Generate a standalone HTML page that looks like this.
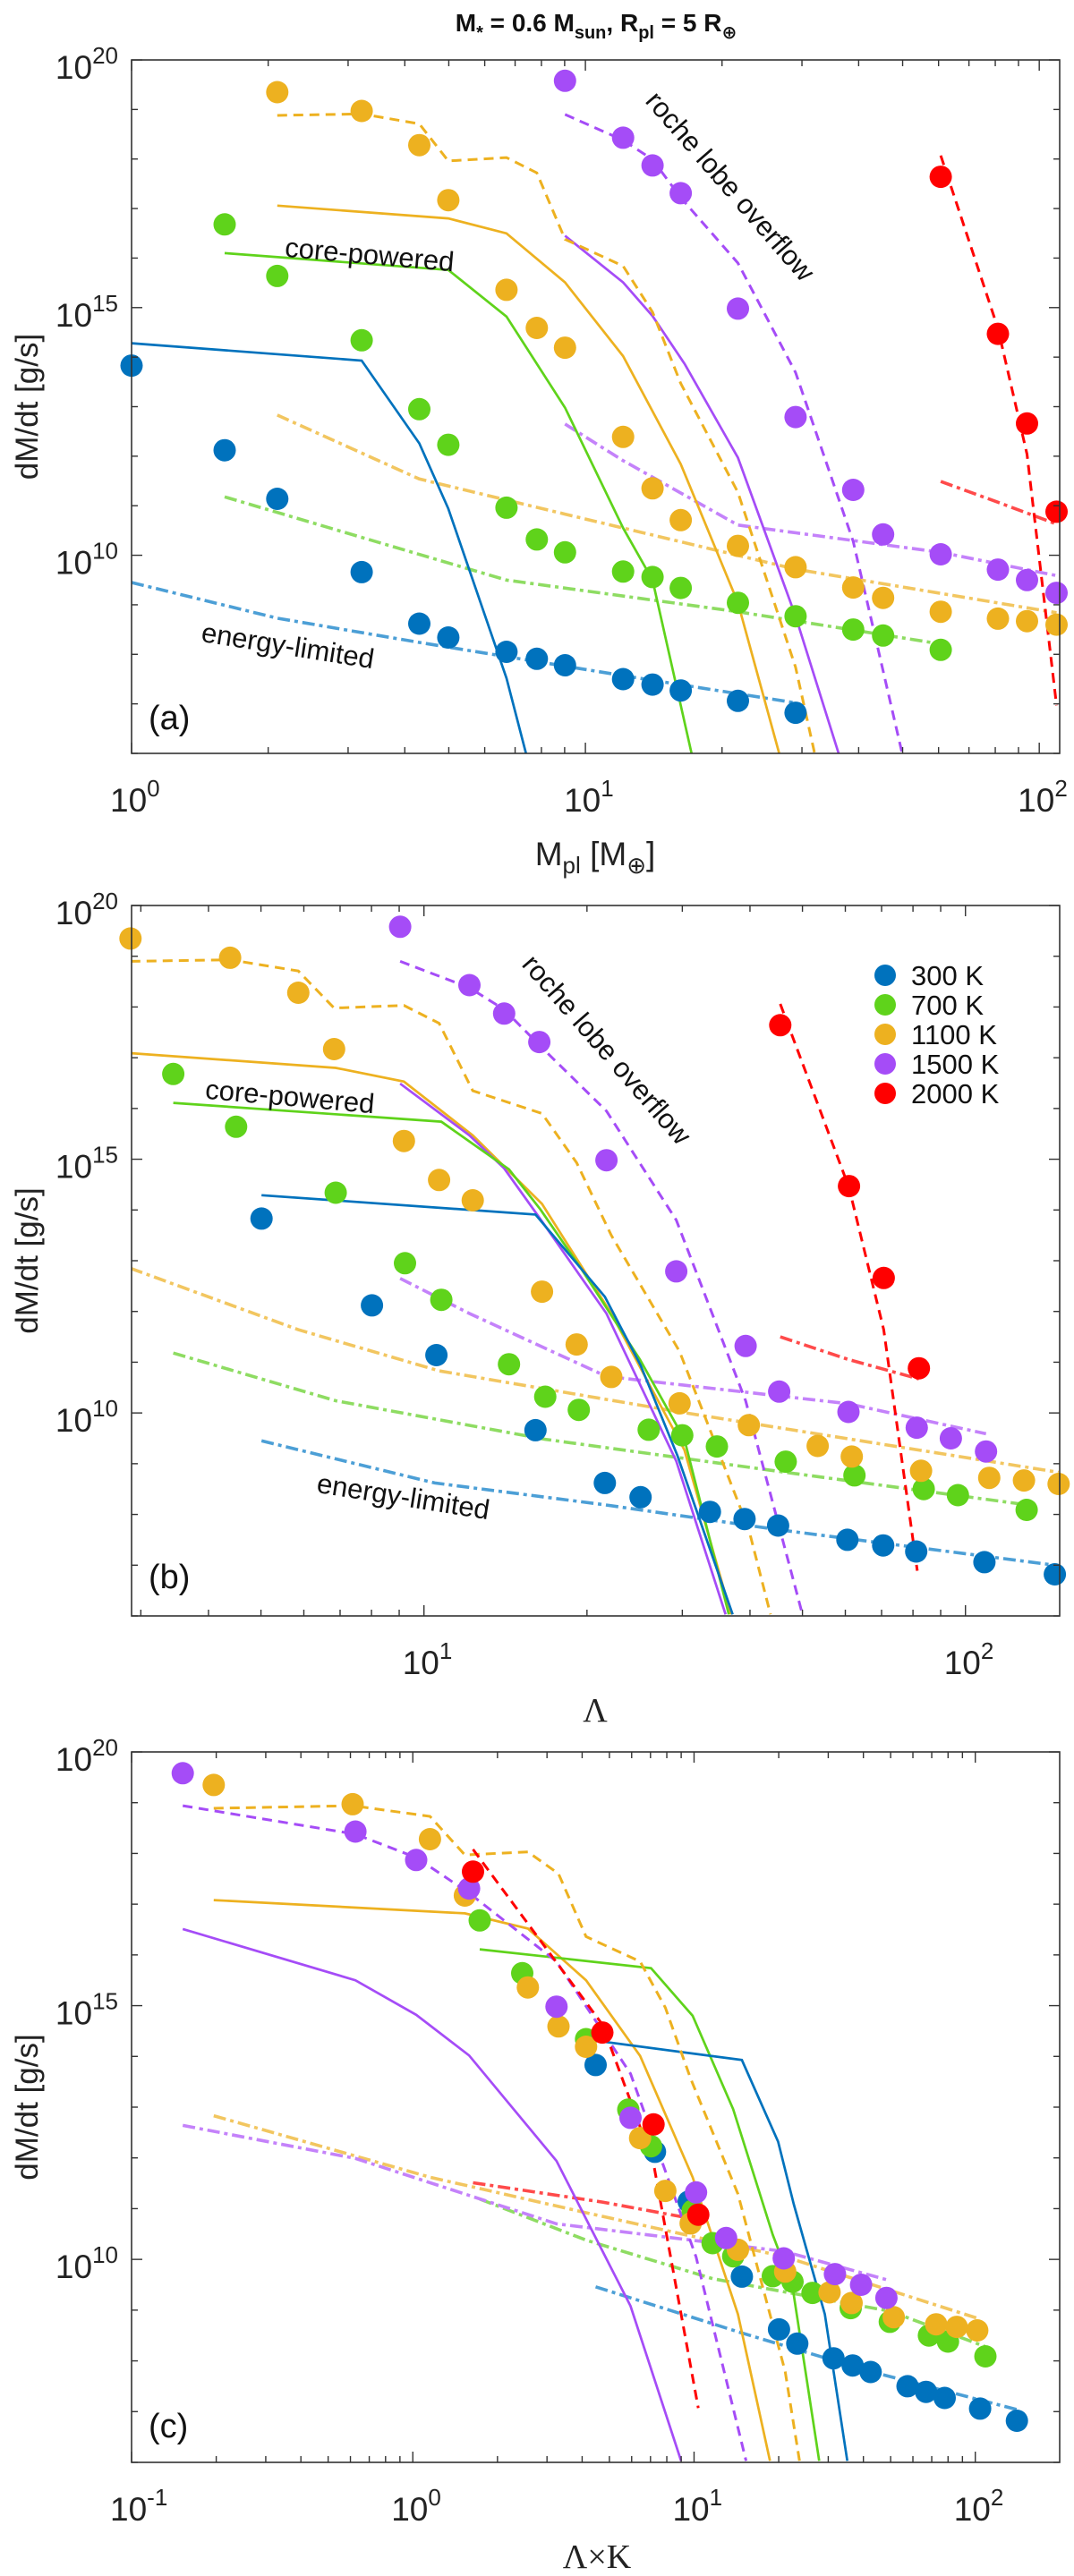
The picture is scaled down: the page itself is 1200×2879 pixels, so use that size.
<!DOCTYPE html>
<html><head><meta charset="utf-8"><style>
html,body{margin:0;padding:0;background:#fff;}
svg{display:block;font-family:"Liberation Sans","DejaVu Sans",sans-serif;}
</style></head><body>
<svg id="fig" width="1200" height="2879" viewBox="0 0 1200 2879" xmlns="http://www.w3.org/2000/svg">
<text x="666" y="35" text-anchor="middle" font-size="28" font-weight="bold" fill="#111">M<tspan font-size="20" dy="8">*</tspan><tspan dy="-8"> = 0.6 M</tspan><tspan font-size="20" dy="8">sun</tspan><tspan dy="-8">, R</tspan><tspan font-size="20" dy="8">pl</tspan><tspan dy="-8"> = 5 R</tspan><tspan font-size="20" dy="8">⊕</tspan></text>
</svg>
<script>
// ---- shared marker rates (log10 dM/dt) ----
const rateBlue=[13.83,12.12,11.14,9.66,8.62,8.34,8.05,7.91,7.78,7.50,7.39,7.27,7.06,6.82];
const rateGreen=[16.68,15.64,14.34,12.95,12.23,10.96,10.32,10.06,9.67,9.56,9.34,9.04,8.77,8.50,8.38,8.09];
const rateOrange=[19.35,18.97,18.28,17.17,15.36,14.59,14.19,12.39,11.35,10.71,10.19,9.76,9.35,9.14,8.86,8.72,8.67,8.60];
const ratePurple=[19.58,18.43,17.87,17.31,14.98,12.79,11.32,10.42,10.02,9.71,9.50,9.24];
const rateRed=[17.64,14.47,12.66,10.88];
// ---- panel a x (log10 Mpl) ----
const massBlue=[0,.205,.321,.507,.634,.698,.826,.893,.955,1.083,1.148,1.210,1.336,1.463];
const massGreen=[.205,.321,.507,.634,.698,.826,.893,.955,1.083,1.148,1.210,1.336,1.463,1.590,1.656,1.783];
const massOrange=[.321,.507,.634,.698,.826,.893,.955,1.083,1.148,1.210,1.336,1.463,1.590,1.656,1.783,1.909,1.973,2.038];
const massPurple=[.955,1.083,1.148,1.210,1.336,1.463,1.590,1.656,1.783,1.909,1.973,2.038];
const massRed=[1.783,1.909,1.973,2.038];
// ---- panel b x (log10 Lambda) ----
const lamBlue=[.700,.904,1.023,1.206,1.334,1.400,1.528,1.592,1.654,1.782,1.848,1.909,2.035,2.165];
const lamGreen=[.537,.653,.837,.965,1.032,1.157,1.224,1.286,1.415,1.477,1.541,1.668,1.795,1.923,1.986,2.113];
const lamOrange=[.458,.642,.768,.834,.963,1.028,1.090,1.218,1.282,1.346,1.472,1.600,1.727,1.790,1.918,2.044,2.108,2.172];
const lamPurple=[.956,1.084,1.148,1.213,1.337,1.466,1.594,1.656,1.784,1.910,1.973,2.038];
const lamRed=[1.658,1.785,1.849,1.914];
// ---- panel c x (log10 Lambda*K) ----
const lkBlue=[.650,.861,.981,1.170,1.302,1.367,1.496,1.564,1.628,1.759,1.825,1.891,2.017,2.148];
const lkGreen=[.238,.389,.616,.766,.847,.995,1.066,1.139,1.280,1.350,1.421,1.557,1.696,1.835,1.903,2.036];
const lkOrange=[-.708,-.214,.061,.185,.409,.518,.616,.808,.898,.988,1.156,1.324,1.482,1.560,1.710,1.861,1.934,2.007];
const lkPurple=[-.818,-.204,.012,.200,.511,.774,1.007,1.114,1.319,1.501,1.594,1.684];
const lkRed=[.214,.674,.856,1.015];

// ---- panel a curves ----
const aSolidBlueX=[0,.507,.634,.698,.826,.869], aSolidBlueY=[14.28,13.93,12.26,10.94,7.52,6.0];
const aSolidGreenX=[.205,.698,.826,.955,1.083,1.148,1.234], aSolidGreenY=[16.10,15.76,14.82,12.98,10.55,9.50,6.0];
const aSolidOrangeX=[.321,.698,.826,.955,1.083,1.210,1.336,1.427], aSolidOrangeY=[17.06,16.80,16.50,15.51,14.02,11.84,9.04,6.0];
const aSolidPurpleX=[.955,1.083,1.148,1.219,1.336,1.463,1.558], aSolidPurpleY=[16.45,15.51,14.83,13.86,11.97,8.77,6.0];
const aDashOrangeX=[.321,.507,.634,.698,.826,.893,.955,1.083,1.148,1.210,1.336,1.463,1.505], aDashOrangeY=[18.88,18.91,18.71,17.96,18.03,17.72,16.38,15.84,14.91,13.47,11.27,7.74,6.0];
const aDashPurpleX=[.955,1.083,1.148,1.210,1.336,1.463,1.590,1.698], aDashPurpleY=[18.90,18.38,17.99,17.22,15.90,13.69,10.28,6.0];
const aDashRedX=[1.783,1.909,1.973,2.038], aDashRedY=[18.07,14.58,12.04,6.97];
const aDdBlueX=[0,.321,.634,1.083,1.463], aDdBlueY=[9.45,8.73,8.24,7.57,7.02];
const aDdGreenX=[.205,.507,.826,1.336,1.783], aDdGreenY=[11.18,10.36,9.50,8.86,8.21];
const aDdOrangeX=[.321,.634,.955,1.463,2.038], aDdOrangeY=[12.83,11.54,10.83,9.72,8.84];
const aDdPurpleX=[.955,1.083,1.336,1.783,2.038], aDdPurpleY=[12.65,11.91,10.61,10.06,9.59];
const aDdRedX=[1.783,1.909,2.038], aDdRedY=[11.49,11.07,10.63];
// ---- panel b curves ----
const bSolidBlueX=[.700,1.206,1.334,1.400,1.468,1.570], bSolidBlueY=[14.29,13.91,12.29,10.94,9.16,6.03];
const bSolidGreenX=[.537,1.032,1.157,1.215,1.291,1.399,1.481,1.563], bSolidGreenY=[16.11,15.74,14.80,14.01,12.83,11.05,9.48,6.03];
const bSolidOrangeX=[.458,.837,.963,1.090,1.218,1.346,1.481,1.567], bSolidOrangeY=[17.09,16.80,16.53,15.47,14.12,11.96,9.27,6.03];
const bSolidPurpleX=[.956,1.084,1.148,1.213,1.337,1.466,1.557], bSolidPurpleY=[16.49,15.47,14.82,13.85,11.96,9.05,6.03];
const bDashOrangeX=[.458,.642,.768,.834,.963,1.028,1.090,1.218,1.282,1.346,1.472,1.600,1.640], bDashOrangeY=[18.90,18.93,18.71,17.98,18.03,17.68,16.35,15.90,14.93,13.50,11.21,7.70,6.03];
const bDashPurpleX=[.956,1.084,1.148,1.213,1.337,1.466,1.594,1.699], bDashPurpleY=[18.90,18.38,17.95,17.25,15.95,13.80,10.24,6.03];
const bDashRedX=[1.658,1.785,1.849,1.911], bDashRedY=[18.06,14.44,11.64,6.89];
const bDdBlueX=[.700,1.020,1.334,1.654,2.165], bDdBlueY=[9.45,8.62,8.19,7.70,7.00];
const bDdGreenX=[.537,.837,1.224,1.668,2.113], bDdGreenY=[11.18,10.24,9.48,8.83,8.19];
const bDdOrangeX=[.458,.768,1.028,1.472,2.172], bDdOrangeY=[12.85,11.64,10.83,10.02,8.83];
const bDdPurpleX=[.956,1.084,1.337,1.784,2.038], bDdPurpleY=[12.65,11.96,10.72,10.18,9.59];
const bDdRedX=[1.658,1.785,1.914], bDdRedY=[11.50,11.05,10.67];
// ---- panel c curves ----
const cSolidPurpleX=[-.818,-.204,.012,.200,.511,.774,.954], cSolidPurpleY=[16.51,15.50,14.82,14.02,11.94,9.08,6.03];
const cSolidOrangeX=[-.708,.185,.409,.616,.808,.995,1.156,1.270], cSolidOrangeY=[17.08,16.82,16.52,15.50,14.01,11.62,8.92,6.03];
const cSolidGreenX=[.238,.847,.995,1.139,1.280,1.350,1.445], cSolidGreenY=[16.11,15.74,14.80,12.96,10.48,9.46,6.03];
const cSolidBlueX=[.650,1.170,1.299,1.355,1.465,1.545], cSolidBlueY=[14.31,13.93,12.32,11.08,8.92,6.03];
const cDashOrangeX=[-.708,-.214,.061,.185,.409,.518,.616,.808,.898,.988,1.156,1.324,1.375], cDashOrangeY=[18.89,18.94,18.73,17.97,18.03,17.60,16.36,15.87,14.96,13.56,11.29,7.79,6.03];
const cDashPurpleX=[-.818,-.204,.012,.200,.511,.774,1.007,1.185], cDashPurpleY=[18.94,18.38,17.92,17.22,15.87,13.66,10.05,6.03];
const cDashRedX=[.214,.674,.856,1.015], cDashRedY=[18.08,14.63,11.89,7.07];
const cDdBlueX=[.650,1.170,1.628,2.148], cDdBlueY=[9.46,8.55,7.79,7.04];
const cDdGreenX=[.238,.616,1.066,1.696,2.036], cDdGreenY=[11.19,10.38,9.62,8.98,8.28];
const cDdOrangeX=[-.708,.061,.616,1.324,2.007], cDdOrangeY=[12.83,11.62,10.92,10.05,8.84];
const cDdPurpleX=[-.818,-.204,.511,1.319,1.684], cDdPurpleY=[12.64,11.99,10.70,10.16,9.60];
const cDdRedX=[.214,.674,1.015], cDdRedY=[11.51,11.13,10.78];

const legendLabels=["300 K","700 K","1100 K","1500 K","2000 K"];
const yTickExps=[10,15,20];

const NS="http://www.w3.org/2000/svg";
const svg=document.getElementById('fig');
const COL={blue:"#0072BD",green:"#5FD31B",orange:"#EDB120",purple:"#A54CF7",red:"#FF0000"};
const DD={blue:"#4C9FD6",green:"#8EDC62",orange:"#F2C660",purple:"#C482FA",red:"#FF4A4A"};
function mk(tag,attrs,parent){const e=document.createElementNS(NS,tag);for(const k in attrs)e.setAttribute(k,attrs[k]);(parent||svg).appendChild(e);return e;}

function panel(id,top,bottom,xmin,xmax,xticks,curves,markers,labelTxt,labelY){
  const L=147,R=1184,ymin=6,ymax=20;
  const sx=v=>L+(v-xmin)/(xmax-xmin)*(R-L);
  const sy=v=>bottom-(v-ymin)/(ymax-ymin)*(bottom-top);
  const g=mk('g',{});
  
  
  const cp=mk('clipPath',{id:'clip'+id},g);
  mk('rect',{x:L,y:top,width:R-L,height:bottom-top},cp);
  const plot=mk('g',{'clip-path':'url(#clip'+id+')'},g);
  curves.forEach(c=>{
    const d=c.x.map((v,i)=>(i?'L':'M')+sx(v).toFixed(1)+' '+sy(c.y[i]).toFixed(1)).join(' ');
    const p=mk('path',{d:d,fill:'none',stroke:c.style==='dd'?DD[c.c]:COL[c.c],'stroke-width':c.style==='solid'?2.7:(c.style==='dd'?3.6:3),'stroke-dasharray':c.style==='dash'?'11,7':(c.style==='dd'?'14,5,4,5':'none')},plot);
    
    
  });
  markers.forEach(m=>{
    m.x.forEach((v,i)=>{
      const ci=mk('circle',{cx:sx(v).toFixed(1),cy:sy(m.y[i]).toFixed(1),r:12.5,fill:COL[m.c]},g);
      
      
    });
  });
  const box=mk('rect',{x:L,y:top,width:R-L,height:bottom-top,fill:'none',stroke:'#333','stroke-width':1.6},g);
  
  
  for(let e=ymin;e<=ymax;e++){
    const y=sy(e),len=(e%5===0)?12:7;
    mk('line',{x1:L,x2:L+len,y1:y,y2:y,stroke:'#333','stroke-width':1.4},g);
    mk('line',{x1:R,x2:R-len,y1:y,y2:y,stroke:'#333','stroke-width':1.4},g);
  }
  yTickExps.forEach(e=>{
    const t=mk('text',{x:132,y:sy(e)+21,'text-anchor':'end','font-size':37,fill:'#222'},g);
    
    
    t.textContent='10';
    const s=mk('tspan',{'font-size':26,dy:-17},t);s.textContent=String(e);
  });
  for(let d=Math.floor(xmin);d<=Math.ceil(xmax);d++){
    for(let k=1;k<10;k++){
      const v=d+Math.log10(k);
      if(v<xmin-1e-6||v>xmax+1e-6)continue;
      const x=sx(v),len=k===1?12:7;
      mk('line',{x1:x,x2:x,y1:bottom,y2:bottom-len,stroke:'#333','stroke-width':1.4},g);
      mk('line',{x1:x,x2:x,y1:top,y2:top+len,stroke:'#333','stroke-width':1.4},g);
    }
  }
  xticks.forEach(e=>{
    const t=mk('text',{x:sx(e)-24,y:bottom+65,'font-size':37,fill:'#222'},g);
    
    
    t.textContent='10';
    const s=mk('tspan',{'font-size':26,dy:-17},t);s.textContent=String(e);
  });
  const yt=mk('text',{x:0,y:0,transform:'translate(42,'+((top+bottom)/2)+') rotate(-90)','text-anchor':'middle','font-size':35,fill:'#222'},g);
  
  
  yt.textContent='dM/dt [g/s]';
  const pl=mk('text',{x:166,y:labelY,'font-size':38,fill:'#111'},g);
  
  
  pl.textContent=labelTxt;
  return {g,sx,sy};
}

function C(c,style,x,y){return {c,style,x,y};}

const pa=panel('a',67,842,0,2.045,[0,1,2],[
  C('blue','dd',aDdBlueX,aDdBlueY),C('green','dd',aDdGreenX,aDdGreenY),C('orange','dd',aDdOrangeX,aDdOrangeY),C('purple','dd',aDdPurpleX,aDdPurpleY),C('red','dd',aDdRedX,aDdRedY),
  C('blue','solid',aSolidBlueX,aSolidBlueY),C('green','solid',aSolidGreenX,aSolidGreenY),C('orange','solid',aSolidOrangeX,aSolidOrangeY),C('purple','solid',aSolidPurpleX,aSolidPurpleY),
  C('orange','dash',aDashOrangeX,aDashOrangeY),C('purple','dash',aDashPurpleX,aDashPurpleY),C('red','dash',aDashRedX,aDashRedY)
],[
  {c:'blue',x:massBlue,y:rateBlue},{c:'green',x:massGreen,y:rateGreen},{c:'orange',x:massOrange,y:rateOrange},{c:'purple',x:massPurple,y:ratePurple},{c:'red',x:massRed,y:rateRed}
],'(a)',815);

const pb=panel('b',1012,1806,0.46,2.174,[1,2],[
  C('blue','dd',bDdBlueX,bDdBlueY),C('green','dd',bDdGreenX,bDdGreenY),C('orange','dd',bDdOrangeX,bDdOrangeY),C('purple','dd',bDdPurpleX,bDdPurpleY),C('red','dd',bDdRedX,bDdRedY),
  C('orange','dash',bDashOrangeX,bDashOrangeY),C('purple','dash',bDashPurpleX,bDashPurpleY),C('red','dash',bDashRedX,bDashRedY),
  C('orange','solid',bSolidOrangeX,bSolidOrangeY),C('purple','solid',bSolidPurpleX,bSolidPurpleY),C('green','solid',bSolidGreenX,bSolidGreenY),C('blue','solid',bSolidBlueX,bSolidBlueY)
],[
  {c:'blue',x:lamBlue,y:rateBlue},{c:'green',x:lamGreen,y:rateGreen},{c:'orange',x:lamOrange,y:rateOrange},{c:'purple',x:lamPurple,y:ratePurple},{c:'red',x:lamRed,y:rateRed}
],'(b)',1775);

const pc=panel('c',1958,2752,-1,2.30,[-1,0,1,2],[
  C('blue','dd',cDdBlueX,cDdBlueY),C('green','dd',cDdGreenX,cDdGreenY),C('orange','dd',cDdOrangeX,cDdOrangeY),C('purple','dd',cDdPurpleX,cDdPurpleY),C('red','dd',cDdRedX,cDdRedY),
  C('purple','solid',cSolidPurpleX,cSolidPurpleY),C('orange','solid',cSolidOrangeX,cSolidOrangeY),C('green','solid',cSolidGreenX,cSolidGreenY),C('blue','solid',cSolidBlueX,cSolidBlueY),
  C('orange','dash',cDashOrangeX,cDashOrangeY),C('purple','dash',cDashPurpleX,cDashPurpleY),C('red','dash',cDashRedX,cDashRedY)
],[
  {c:'blue',x:lkBlue,y:rateBlue},{c:'green',x:lkGreen,y:rateGreen},{c:'orange',x:lkOrange,y:rateOrange},{c:'purple',x:lkPurple,y:ratePurple},{c:'red',x:lkRed,y:rateRed}
],'(c)',2724);

function ann(txt,x,y,rot,name){
  const t=mk('text',{x:0,y:0,transform:'translate('+x+','+y+') rotate('+rot+')','text-anchor':'middle','font-size':31,fill:'#111'});
  
  
  t.textContent=txt;
}
ann('roche lobe overflow',808,215,49,'roche-lobe-annotation-a');
ann('core-powered',412,295,5,'core-powered-annotation-a');
ann('energy-limited',320,732,9,'energy-limited-annotation-a');
ann('roche lobe overflow',670,1180,49,'roche-lobe-annotation-b');
ann('core-powered',323,1236,5,'core-powered-annotation-b');
ann('energy-limited',449,1683,9,'energy-limited-annotation-b');

const xa=mk('text',{x:665,y:967,'text-anchor':'middle','font-size':37,fill:'#222'});


xa.innerHTML='M<tspan font-size="26" dy="9">pl</tspan><tspan dy="-9"> [M</tspan><tspan font-size="26" dy="9">⊕</tspan><tspan dy="-9">]</tspan>';
const xb=mk('text',{x:665,y:1924,'text-anchor':'middle','font-size':38,fill:'#222','font-family':'"Liberation Serif",serif'});


xb.textContent='Λ';
const xc=mk('text',{x:667,y:2870,'text-anchor':'middle','font-size':38,fill:'#222','font-family':'"Liberation Serif",serif'});


xc.textContent='Λ×K';

const legCols=['blue','green','orange','purple','red'];
const lg=mk('g',{});


legendLabels.forEach((lab,i)=>{
  const y=1090+i*33;
  const c=mk('circle',{cx:989,cy:y,r:12,fill:COL[legCols[i]]},lg);
  
  
  const t=mk('text',{x:1018,y:y+11,'font-size':31,fill:'#111'},lg);
  
  
  t.textContent=lab;
});
</script>
</body></html>
